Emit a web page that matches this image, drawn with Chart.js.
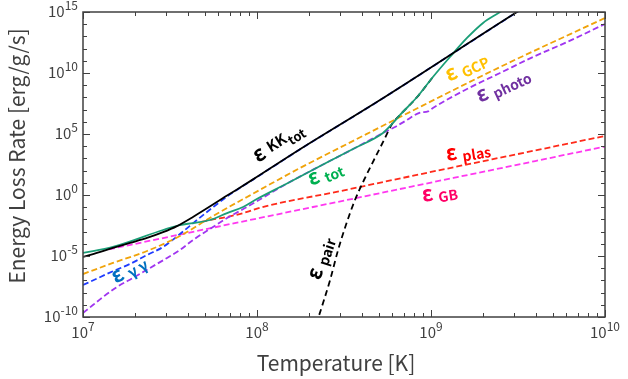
<!DOCTYPE html>
<html>
<head>
<meta charset="utf-8">
<script src="https://cdn.jsdelivr.net/npm/chart.js@4.4.1/dist/chart.umd.min.js"></script>
<style>
  html, body { margin: 0; padding: 0; background: #fff; }
  #wrap { width: 628px; height: 379px; }
</style>
</head>
<body>
<div id="wrap"><canvas id="chart" width="628" height="379"></canvas></div>
<script>
// values, stored as log10(T [K]) and log10(rate [erg/g/s])
const kkLogT = [7.0, 7.08, 7.172, 7.27, 7.368, 7.46, 7.54, 7.632, 7.828, 7.977, 8.247, 8.707, 9.494, 9.6];
const kkLogE = [-5.08, -4.75, -4.34, -3.93, -3.52, -3.05, -2.55, -1.80, -0.05, 1.28, 3.75, 7.79, 15.0, 15.94];

const totLogT = [7.0, 7.172, 7.46, 7.557, 7.632, 7.73, 7.828, 7.92, 7.989, 8.178, 8.374, 8.563, 8.724, 8.776, 8.822, 8.92, 9.011, 9.109, 9.207, 9.299, 9.397, 9.454];
const totLogE = [-4.75, -4.26, -2.87, -2.46, -2.30, -2.05, -1.48, -0.98, -0.41, 0.98, 2.46, 3.85, 5.08, 5.82, 6.56, 8.03, 9.67, 11.31, 12.87, 14.10, 15.0, 15.57];

const pairLogT = [8.34, 8.385, 8.42, 8.466, 8.511, 8.563, 8.615, 8.672, 8.73, 8.776, 8.822, 8.92, 9.011];
const pairLogE = [-10.6, -8.61, -6.97, -4.51, -2.46, -0.41, 1.23, 2.87, 4.51, 5.82, 6.56, 8.03, 9.67];

const gcpLogT = [7.0, 7.172, 7.368, 7.557, 7.747, 7.943, 8.057, 8.247, 8.563, 8.822, 9.397, 10.0];
const gcpLogE = [-6.48, -5.57, -4.59, -3.36, -1.72, -0.16, 0.74, 2.21, 4.51, 6.39, 10.49, 14.51];

const photoLogT = [7.0, 7.057, 7.115, 7.195, 7.287, 7.385, 7.483, 7.557, 7.632, 7.747, 7.828, 7.943, 8.178, 8.374, 8.563, 8.724, 8.79, 8.85, 8.937, 8.983, 9.011, 9.207, 9.397, 9.586, 9.782, 10.0];
const photoLogE = [-9.67, -9.02, -8.36, -7.54, -6.80, -5.98, -5.16, -4.51, -3.69, -2.62, -1.89, -0.98, 0.98, 2.46, 3.85, 5.08, 5.55, 6.05, 6.75, 6.85, 7.13, 8.69, 10.0, 11.31, 12.54, 14.02];

const ggLogT = [7.0, 7.08, 7.172, 7.27, 7.368, 7.46, 7.557, 7.655, 7.747, 7.845, 7.977, 8.247, 8.707, 9.494, 9.6];
const ggLogE = [-7.38, -6.85, -6.25, -5.65, -4.92, -4.26, -3.2, -2.05, -1.0, 0.05, 1.26, 3.74, 7.78, 14.99, 15.93];

const plasLogT = [7.68, 7.747, 7.828, 7.943, 8.0, 8.5, 9.0, 9.5, 10.0];
const plasLogE = [-2.2, -2.0, -1.8, -1.39, -1.11, 0.38, 1.89, 3.36, 4.84];

const gbLogT = [7.15, 7.5, 8.0, 8.5, 9.0, 9.5, 10.0];
const gbLogE = [-4.45, -3.41, -1.93, -0.46, 1.02, 2.49, 3.97];

// axis ranges (decades)
const xDecades = [7, 8, 9, 10];
const yDecades = [-10, -5, 0, 5, 10, 15];

function pts(lt, le) {
    return lt.map((t, i) => ({ x: 10 ** t, y: 10 ** le[i] }));
}

function line(label, lt, le, color, dash) {
    return {
        label: label,
        data: pts(lt, le),
        borderColor: color,
        borderWidth: 1.8,
        borderDash: dash || [],
        pointRadius: 0,
        fill: false,
        cubicInterpolationMode: 'monotone'
    };
}

// curve captions, anchored in data space (log10 T, log10 E)
const captions = [
    { lt: 8.006, le: 2.62, angle: -32, color: '#000000', parts: [['ε', 21, 0], ['KK', 15, -2], ['tot', 13, 3]] },
    { lt: 8.310, le: 0.74, angle: -22, color: '#00B050', parts: [['ε', 21, 0], ['tot', 14, 3]] },
    { lt: 9.103, le: 9.26, angle: -25, color: '#FFC000', parts: [['ε', 21, 0], ['GCP', 14, 3]] },
    { lt: 9.282, le: 7.54, angle: -25, color: '#7030A0', parts: [['ε', 21, 0], ['photo', 14, 3]] },
    { lt: 9.092, le: 2.79, angle: -9, color: '#FF0000', parts: [['ε', 21, 0], ['plas', 14, 3]] },
    { lt: 8.954, le: -0.57, angle: -9, color: '#FF0066', parts: [['ε', 21, 0], ['GB', 14, 3]] },
    { lt: 7.190, le: -7.30, angle: -30, color: '#0070C0', parts: [['ε', 21, 0], ['γ γ', 15, 3]] },
    { lt: 8.362, le: -7.05, angle: -72, color: '#000000', parts: [['ε', 21, 0], ['pair', 14, 3]] }
];

const FONT = '"Noto Sans CJK JP", "Noto Sans", sans-serif';
const GREY = '#404040';

function drawPow(ctx, x, y, exp, align) {
    const base = '10', sup = String(exp);
    ctx.font = '15px ' + FONT;
    const wb = ctx.measureText(base).width;
    ctx.font = '12px ' + FONT;
    const ws = ctx.measureText(sup).width;
    let x0 = x;
    if (align === 'right') x0 = x - wb - ws;
    if (align === 'center') x0 = x - (wb + ws) / 2;
    ctx.textAlign = 'left';
    ctx.textBaseline = 'alphabetic';
    ctx.font = '15px ' + FONT;
    ctx.fillText(base, x0, y);
    ctx.font = '12px ' + FONT;
    ctx.fillText(sup, x0 + wb, y - 7);
}

const axesPlugin = {
    id: 'axesPlugin',
    afterDatasetsDraw(chart) {
        const ctx = chart.ctx;
        const xs = chart.scales.x, ys = chart.scales.y;
        const { left, right, top, bottom } = chart.chartArea;
        ctx.save();

        // frame
        ctx.strokeStyle = GREY;
        ctx.lineWidth = 1.5;
        ctx.strokeRect(left, top, right - left, bottom - top);

        // inward ticks
        ctx.lineWidth = 1;
        ctx.beginPath();
        xDecades.forEach(d => {
            for (let m = 1; m <= 9; m++) {
                if (d === 10 && m > 1) break;
                const px = Math.round(xs.getPixelForValue(m * 10 ** d)) + 0.5;
                const len = m === 1 ? 7 : 4;
                ctx.moveTo(px, bottom); ctx.lineTo(px, bottom - len);
                ctx.moveTo(px, top); ctx.lineTo(px, top + len);
            }
        });
        for (let e = -10; e <= 15; e++) {
            const py = Math.round(ys.getPixelForValue(10 ** e)) + 0.5;
            const len = e % 5 === 0 ? 7 : 4;
            ctx.moveTo(left, py); ctx.lineTo(left + len, py);
            ctx.moveTo(right, py); ctx.lineTo(right - len, py);
        }
        ctx.stroke();

        // tick labels
        ctx.fillStyle = GREY;
        xDecades.forEach(d => drawPow(ctx, xs.getPixelForValue(10 ** d), bottom + 21, d, 'center'));
        yDecades.forEach(e => drawPow(ctx, left - 5, ys.getPixelForValue(10 ** e) + 5, e, 'right'));

        // axis titles
        ctx.font = '21px ' + FONT;
        ctx.textAlign = 'center';
        ctx.textBaseline = 'alphabetic';
        ctx.fillText('Temperature [K]', 336, 371);
        ctx.save();
        ctx.translate(25, 156);
        ctx.rotate(-Math.PI / 2);
        ctx.fillText('Energy Loss Rate [erg/g/s]', 0, 0);
        ctx.restore();

        // curve captions
        captions.forEach(c => {
            const x = xs.getPixelForValue(10 ** c.lt);
            const y = ys.getPixelForValue(10 ** c.le);
            ctx.save();
            ctx.translate(x, y);
            ctx.rotate(c.angle * Math.PI / 180);
            ctx.fillStyle = c.color;
            ctx.textAlign = 'left';
            let cx = 0;
            c.parts.forEach((p, i) => {
                ctx.font = 'bold ' + p[1] + 'px ' + FONT;
                ctx.fillText(p[0], cx, p[2]);
                cx += ctx.measureText(p[0]).width + (i === 0 ? 5 : 1);
            });
            ctx.restore();
        });

        ctx.restore();
    }
};

new Chart(document.getElementById('chart'), {
    type: 'line',
    data: {
        datasets: [
            line('KK tot', kkLogT, kkLogE, '#000000'),
            line('tot', totLogT, totLogE, '#1a9e77'),
            line('pair', pairLogT, pairLogE, '#000000', [6, 4]),
            line('GCP', gcpLogT, gcpLogE, '#f0a30a', [6, 3]),
            line('photo', photoLogT, photoLogE, '#a035f0', [6, 3]),
            line('gamma gamma', ggLogT, ggLogE, '#1f3cff', [6, 3]),
            line('plas', plasLogT, plasLogE, '#ff2a1a', [6, 3]),
            line('GB', gbLogT, gbLogE, '#ff38f0', [6, 3])
        ]
    },
    options: {
        responsive: false,
        animation: false,
        parsing: false,
        layout: { padding: { left: 83, top: 12, right: 23, bottom: 62 } },
        plugins: { legend: { display: false }, tooltip: { enabled: false } },
        scales: {
            x: { type: 'logarithmic', min: 1e7, max: 1e10, display: false },
            y: { type: 'logarithmic', min: 1e-10, max: 1e15, display: false }
        }
    },
    plugins: [axesPlugin]
});
</script>
</body>
</html>
